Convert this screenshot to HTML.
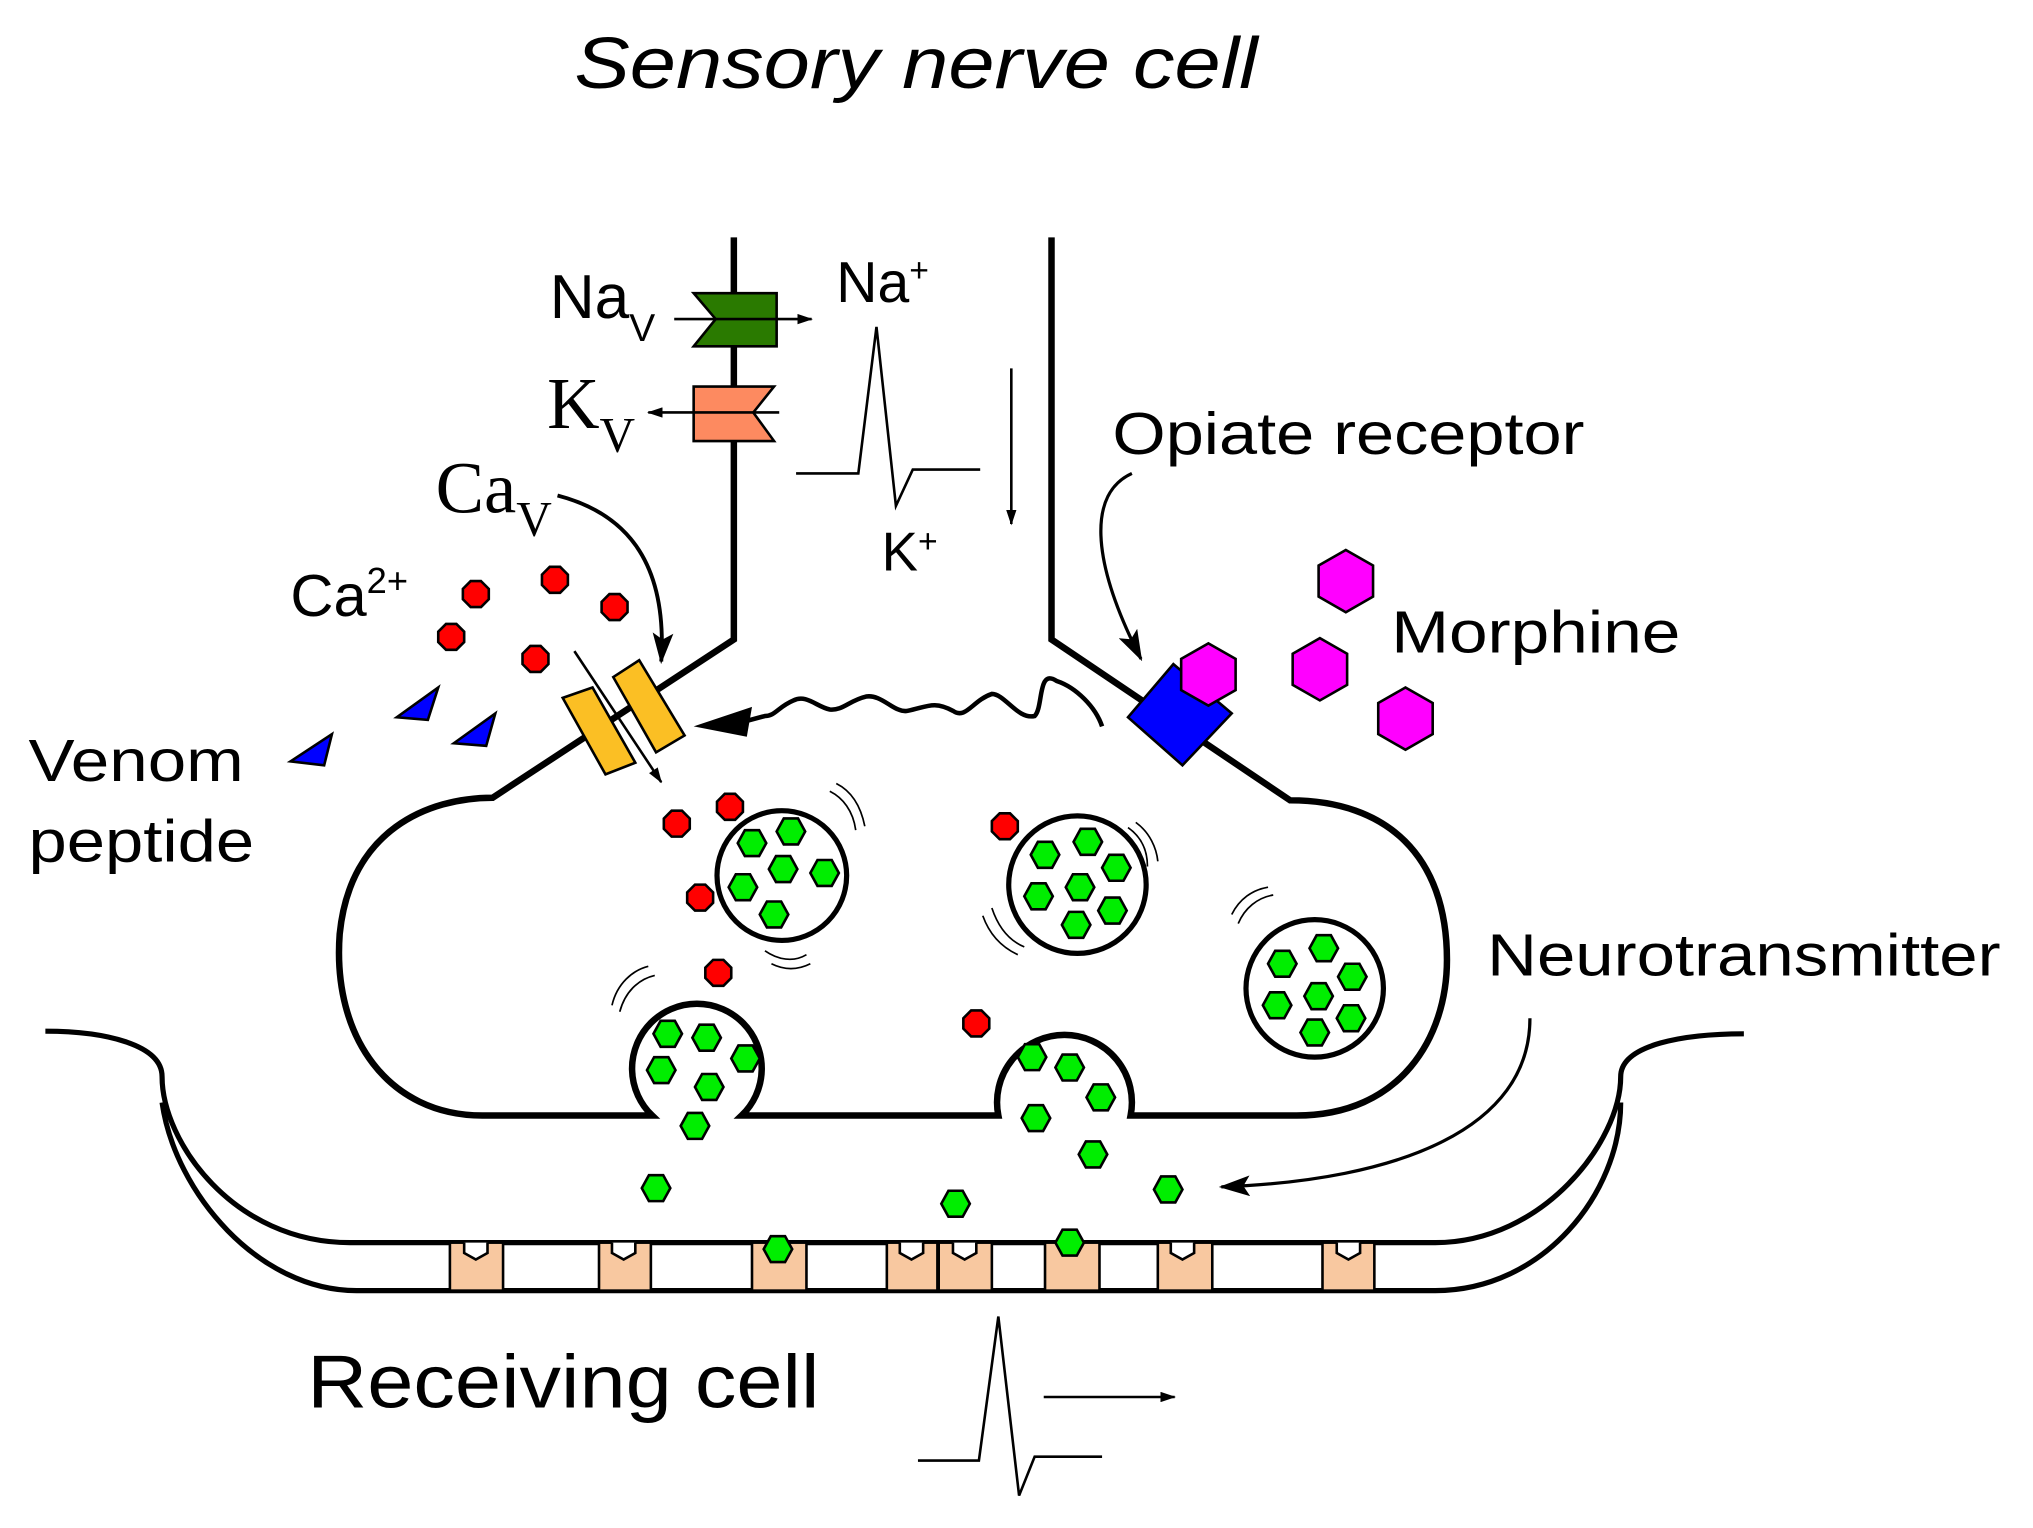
<!DOCTYPE html>
<html><head><style>html,body{margin:0;padding:0;background:#fff}svg{display:block}</style></head>
<body>
<svg width="2033" height="1528" viewBox="0 0 1568 1178" preserveAspectRatio="none" xmlns="http://www.w3.org/2000/svg" font-family="Liberation Sans, sans-serif">
<defs>
<symbol id="g" viewBox="-13 -13 26 26" overflow="visible"><polygon points="11,0 5.5,10 -5.5,10 -11,0 -5.5,-10 5.5,-10" fill="#00ee00" stroke="#000" stroke-width="2"/></symbol>
<symbol id="r" viewBox="-10 -10 20 20" overflow="visible"><polygon points="4,-10 10,-4 10,4 4,10 -4,10 -10,4 -10,-4 -4,-10" fill="#f00" stroke="#000" stroke-width="2"/></symbol>
<symbol id="m" viewBox="-24 -24 48 48" overflow="visible"><polygon points="0,-24 21,-12 21,12 0,24 -21,12 -21,-12" fill="#f0f" stroke="#000" stroke-width="2"/></symbol>
<marker id="a" markerWidth="12" markerHeight="8" refX="11" refY="4" orient="auto" markerUnits="userSpaceOnUse"><path d="M0,0 L12,4 L0,8z"/></marker>
<marker id="A" markerWidth="24" markerHeight="16" refX="22" refY="8" orient="auto" markerUnits="userSpaceOnUse"><path d="M0,0 L24,8 L0,16 L5,8z"/></marker>
</defs>
<text x="443" y="68" font-size="56" font-style="italic" textLength="527" lengthAdjust="spacingAndGlyphs">Sensory nerve cell</text>
<g fill="none" stroke="#000" stroke-width="5">
<path d="M566,183 L566,493 L380,615 C330,615 270,640 262,720 C256,800 300,860 372,860 L503,860 A50,50 0 1 1 572,860 L770,860 A52,52 0 1 1 872,860 L1000,860 C1080,860 1116,800 1116,740 C1116,660 1070,617 995,617 L811,493 L811,183"/>
<path d="M35,795 C80,795 125,805 125,830 C125,880 180,958 270,958 L1107,958 C1190,958 1250,880 1250,830 C1250,805 1300,797 1345,797" stroke-width="4"/>
<path d="M125,850 C135,920 200,995 275,995 L1107,995 C1190,995 1250,920 1250,850" stroke-width="4"/>
</g>
<g fill="#f8c8a0" stroke="#000" stroke-width="2">
<rect x="347" y="958" width="41" height="37"/><rect x="462" y="958" width="40" height="37"/><rect x="580" y="958" width="42" height="37"/><rect x="684" y="958" width="39" height="37"/><rect x="724" y="958" width="41" height="37"/><rect x="806" y="958" width="42" height="37"/><rect x="893" y="958" width="42" height="37"/><rect x="1020" y="958" width="40" height="37"/>
</g>
<g fill="#fff" stroke="#000" stroke-width="2">
<path d="M358,958 L358,966 L367,971 L376,966 L376,958"/><path d="M472,958 L472,966 L481,971 L490,966 L490,958"/><path d="M694,958 L694,966 L703,971 L712,966 L712,958"/><path d="M735,958 L735,966 L744,971 L753,966 L753,958"/><path d="M903,958 L903,966 L912,971 L921,966 L921,958"/><path d="M1031,958 L1031,966 L1040,971 L1049,966 L1049,958"/>
</g>
<polygon points="535,226 599,226 599,267 535,267 552,246" fill="#2a7a00" stroke="#000" stroke-width="2"/>
<line x1="520" y1="246" x2="626" y2="246" stroke="#000" stroke-width="2" marker-end="url(#a)"/>
<polygon points="535,298 597,298 581,318 597,340 535,340" fill="#fd8a60" stroke="#000" stroke-width="2"/>
<line x1="601" y1="318" x2="500" y2="318" stroke="#000" stroke-width="2" marker-end="url(#a)"/>
<text x="424" y="245" font-size="48">Na<tspan font-size="30" dy="18">V</tspan></text>
<text x="422" y="330" font-size="56" font-family="Liberation Serif, serif">K<tspan font-size="38" dy="18">V</tspan></text>
<text x="336" y="395" font-size="56" font-family="Liberation Serif, serif">Ca<tspan font-size="38" dy="18">V</tspan></text>
<text x="645" y="233" font-size="44">Na<tspan font-size="26" dy="-16">+</tspan></text>
<text x="680" y="440" font-size="42">K<tspan font-size="26" dy="-14">+</tspan></text>
<text x="224" y="475" font-size="46">Ca<tspan font-size="28" dy="-18">2+</tspan></text>
<path d="M614,365 L662,365 L676,252 L691,390 L704,362 L756,362" fill="none" stroke="#000" stroke-width="2"/>
<line x1="780" y1="284" x2="780" y2="404" stroke="#000" stroke-width="2" marker-end="url(#a)"/>
<path d="M430,382 C480,395 515,430 510,510" fill="none" stroke="#000" stroke-width="3" marker-end="url(#A)"/>
<polygon points="434,538 457,530 490,588 467,597" fill="#fbbf24" stroke="#000" stroke-width="2"/>
<polygon points="473,522 493,509 528,567 506,580" fill="#fbbf24" stroke="#000" stroke-width="2"/>
<line x1="443" y1="502" x2="510" y2="603" stroke="#000" stroke-width="2" marker-end="url(#a)"/>
<path d="M850,560 C845,545 830,530 815,525 C800,515 805,545 798,552 C785,555 775,535 765,535 C750,540 745,555 735,548 C720,540 715,545 700,548 C690,550 680,535 668,537 C655,540 650,548 640,547 C630,545 622,535 612,540 C600,545 598,552 590,552 L560,560" fill="none" stroke="#000" stroke-width="3.5"/>
<path d="M535,560 L580,545 L576,568z"/>
<polygon points="905,512 950,550 912,590 870,553" fill="#00f" stroke="#000" stroke-width="2"/>
<use href="#m" x="908" y="496" width="48" height="48"/>
<path d="M873,365 C840,380 840,430 880,508" fill="none" stroke="#000" stroke-width="2.5" marker-end="url(#A)"/>
<text x="858" y="350" font-size="46" textLength="364" lengthAdjust="spacingAndGlyphs">Opiate receptor</text>
<use href="#m" x="1014" y="424" width="48" height="48"/>
<use href="#m" x="994" y="492" width="48" height="48"/>
<use href="#m" x="1060" y="530" width="48" height="48"/>
<text x="1073" y="503" font-size="46" textLength="223" lengthAdjust="spacingAndGlyphs">Morphine</text>
<polygon points="306,553 338,530 330,555" fill="#00f" stroke="#000" stroke-width="2"/>
<polygon points="350,573 382,550 375,575" fill="#00f" stroke="#000" stroke-width="2"/>
<polygon points="224,587 256,566 250,590" fill="#00f" stroke="#000" stroke-width="2"/>
<text x="22" y="602" font-size="46" textLength="166" lengthAdjust="spacingAndGlyphs">Venom</text>
<text x="22" y="664" font-size="46" textLength="174" lengthAdjust="spacingAndGlyphs">peptide</text>
<g>
<use href="#r" x="357" y="448" width="20" height="20"/><use href="#r" x="418" y="437" width="20" height="20"/><use href="#r" x="464" y="458" width="20" height="20"/><use href="#r" x="338" y="481" width="20" height="20"/><use href="#r" x="403" y="498" width="20" height="20"/>
<use href="#r" x="512" y="625" width="20" height="20"/><use href="#r" x="553" y="612" width="20" height="20"/><use href="#r" x="530" y="682" width="20" height="20"/><use href="#r" x="544" y="740" width="20" height="20"/><use href="#r" x="765" y="627" width="20" height="20"/><use href="#r" x="743" y="779" width="20" height="20"/>
</g>
<g fill="none" stroke="#000" stroke-width="4">
<circle cx="603" cy="675" r="50"/><circle cx="831" cy="682" r="53"/><circle cx="1014" cy="762" r="53"/>
</g>
<g fill="none" stroke="#000" stroke-width="1.3">
<path d="M640,610 C650,615 658,625 660,640 M645,604 C657,610 664,622 667,637 M590,733 C600,740 612,742 622,736 M595,743 C605,748 615,748 625,743"/>
<path d="M870,638 C880,645 885,655 885,668 M876,634 C887,642 892,654 893,664 M790,730 C778,725 770,715 765,700 M785,736 C772,730 763,720 758,706"/>
<path d="M955,712 C960,700 970,692 982,690 M950,705 C956,693 966,686 978,684 M478,780 C482,765 492,755 505,752 M472,775 C476,758 488,748 500,745"/>
</g>
<g>
<use href="#g" x="567" y="637" width="26" height="26"/><use href="#g" x="597" y="628" width="26" height="26"/><use href="#g" x="591" y="657" width="26" height="26"/><use href="#g" x="623" y="660" width="26" height="26"/><use href="#g" x="560" y="671" width="26" height="26"/><use href="#g" x="584" y="692" width="26" height="26"/>
<use href="#g" x="793" y="646" width="26" height="26"/><use href="#g" x="826" y="636" width="26" height="26"/><use href="#g" x="848" y="656" width="26" height="26"/><use href="#g" x="820" y="671" width="26" height="26"/><use href="#g" x="788" y="678" width="26" height="26"/><use href="#g" x="845" y="689" width="26" height="26"/><use href="#g" x="817" y="700" width="26" height="26"/>
<use href="#g" x="976" y="730" width="26" height="26"/><use href="#g" x="1008" y="718" width="26" height="26"/><use href="#g" x="1030" y="740" width="26" height="26"/><use href="#g" x="1004" y="755" width="26" height="26"/><use href="#g" x="972" y="762" width="26" height="26"/><use href="#g" x="1029" y="772" width="26" height="26"/><use href="#g" x="1001" y="783" width="26" height="26"/>
<use href="#g" x="502" y="784" width="26" height="26"/><use href="#g" x="532" y="787" width="26" height="26"/><use href="#g" x="562" y="803" width="26" height="26"/><use href="#g" x="497" y="812" width="26" height="26"/><use href="#g" x="534" y="825" width="26" height="26"/><use href="#g" x="523" y="855" width="26" height="26"/><use href="#g" x="493" y="903" width="26" height="26"/>
<use href="#g" x="783" y="802" width="26" height="26"/><use href="#g" x="812" y="810" width="26" height="26"/><use href="#g" x="836" y="833" width="26" height="26"/><use href="#g" x="786" y="849" width="26" height="26"/><use href="#g" x="830" y="877" width="26" height="26"/><use href="#g" x="724" y="915" width="26" height="26"/><use href="#g" x="888" y="904" width="26" height="26"/><use href="#g" x="587" y="950" width="26" height="26"/><use href="#g" x="812" y="945" width="26" height="26"/>
</g>
<text x="1147" y="752" font-size="46" textLength="396" lengthAdjust="spacingAndGlyphs">Neurotransmitter</text>
<path d="M1180,785 C1180,870 1080,910 942,915" fill="none" stroke="#000" stroke-width="2.5" marker-end="url(#A)"/>
<text x="237" y="1085" font-size="58" textLength="395" lengthAdjust="spacingAndGlyphs">Receiving cell</text>
<path d="M708,1126 L755,1126 L770,1015 L786,1153 L798,1123 L850,1123" fill="none" stroke="#000" stroke-width="2"/>
<line x1="805" y1="1077" x2="906" y2="1077" stroke="#000" stroke-width="2" marker-end="url(#a)"/>
</svg>
</body></html>
